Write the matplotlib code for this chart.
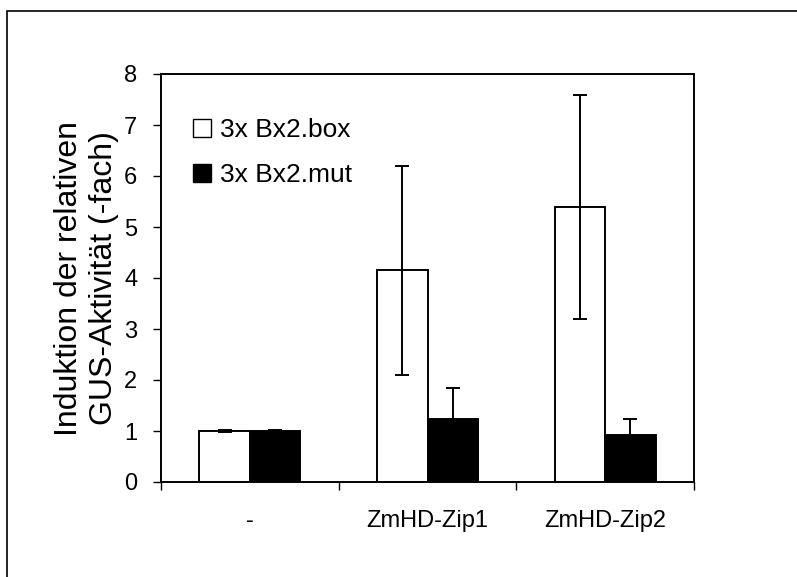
import numpy as np
import matplotlib
matplotlib.use("Agg")
import matplotlib.pyplot as plt
import matplotlib.patches as mpatches

plt.rcParams['font.family'] = ['Liberation Sans', 'DejaVu Sans']

groups = ['-', 'ZmHD-Zip1', 'ZmHD-Zip2']
box_vals = [1.0, 4.15, 5.39]
box_err = [0.01, 2.05, 2.19]
mut_vals = [1.0, 1.24, 0.93]
mut_err = [0.01, 0.60, 0.30]
series = ['3x Bx2.box', '3x Bx2.mut']

fig = plt.figure(figsize=(7.97, 5.77), dpi=100)
ax = fig.add_axes([161/797, 1-482/577, (694-161)/797, (482-74)/577])

x = np.arange(len(groups))
w = 0.285
lw = 1.4
ax.bar(x - w/2, box_vals, w, color='white', edgecolor='black', linewidth=lw,
       yerr=box_err, error_kw=dict(ecolor='black', elinewidth=lw, capsize=5, capthick=lw),
       label=series[0], zorder=2)
ax.bar(x + w/2, mut_vals, w, color='black', edgecolor='black', linewidth=lw,
       yerr=mut_err, error_kw=dict(ecolor='black', elinewidth=lw, capsize=5, capthick=lw),
       label=series[1], zorder=2)

ax.set_xlim(-0.5, len(groups) - 0.5)
ax.set_ylim(0, 8)
ax.set_yticks(range(0, 9))
ax.tick_params(axis='y', labelsize=17, length=6, width=1, direction='out', pad=11)

# category boundaries as ticks, names centered between them
ax.set_xticks(np.arange(len(groups) + 1) - 0.5)
ax.set_xticklabels([])
ax.set_xticks(x, minor=True)
ax.set_xticklabels(groups, minor=True)
ax.tick_params(axis='x', which='major', length=6, width=1, direction='out')
ax.tick_params(axis='x', which='minor', length=0, labelsize=17, pad=20)

for s in ax.spines.values():
    s.set_linewidth(lw)

ax.set_ylabel('Induktion der relativen\nGUS-Aktivität (-fach)', fontsize=23, labelpad=4,
              linespacing=1.2)

h1 = mpatches.Patch(facecolor='white', edgecolor='black', linewidth=1)
h2 = mpatches.Patch(facecolor='black', edgecolor='black', linewidth=1)
ax.legend([h1, h2], series, loc='upper left', bbox_to_anchor=(0.015, 0.95),
          frameon=False, fontsize=19, handlelength=0.7, handleheight=0.7,
          handletextpad=0.35, labelspacing=0.8)

# outer frame
frame = mpatches.Rectangle((7/797, -0.1), 1.2, (577-11)/577 + 0.1, transform=fig.transFigure,
                           fill=False, edgecolor='black', linewidth=1.2)
fig.patches.append(frame)

fig.savefig('out.png', dpi=100)
